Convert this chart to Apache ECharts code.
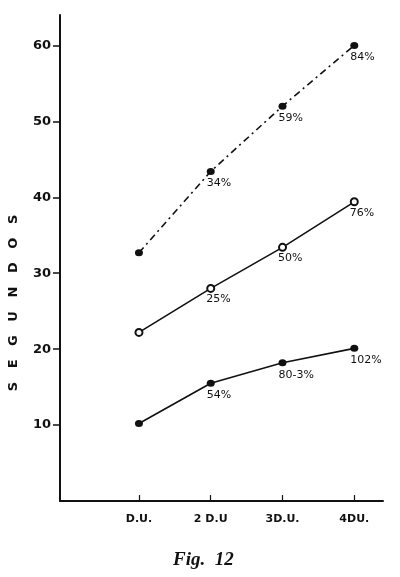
<!DOCTYPE html>
<html>
<head>
<meta charset="utf-8">
<script src="https://cdn.jsdelivr.net/npm/echarts@6/dist/echarts.min.js"></script>
<style>
  html, body { margin: 0; padding: 0; background: #fff; }
  #chart { width: 400px; height: 577px; }
</style>
</head>
<body>
<div id="chart"></div>
<script>
// categorias del eje X
var categories = ['D.U.', '2 D.U', '3D.U.', '4DU.'];
var yTicks = [10, 20, 30, 40, 50, 60];

// serie superior (punto y raya)
var topValues = [32.7, 43.4, 52.0, 60.0];
var topLabels = ['', '34%', '59%', '84%'];
// serie del medio (círculos vacíos)
var midValues = [22.2, 28.0, 33.4, 39.4];
var midLabels = ['', '25%', '50%', '76%'];
// serie inferior
var lowValues = [10.2, 15.5, 18.2, 20.1];
var lowLabels = ['', '54%', '80-3%', '102%'];

var ink = '#111';

function toPoints(values, labels) {
  return values.map(function (v, i) {
    return { value: [i + 1, v], label: { formatter: labels[i] } };
  });
}

var pointLabel = {
  show: true,
  position: [0, 10],
  align: 'left',
  verticalAlign: 'top',
  color: ink,
  fontSize: 11,
  fontFamily: 'DejaVu Sans'
};

var chart = echarts.init(document.getElementById('chart'));
chart.setOption({
  backgroundColor: '#fff',
  animation: false,
  title: {
    text: 'Fig.  12',
    left: 168,
    top: 546,
    textStyle: {
      fontFamily: 'Liberation Serif',
      fontStyle: 'italic',
      fontWeight: 'bold',
      fontSize: 19,
      color: ink
    }
  },
  grid: {
    left: 60,
    right: 17,
    top: 15,
    bottom: 76,
    outerBoundsMode: 'none'
  },
  xAxis: {
    type: 'value',
    min: -0.1,
    max: 4.4,
    axisLine: { show: true, onZero: false, lineStyle: { color: ink, width: 2 } },
    axisTick: {
      show: true,
      inside: true,
      length: 6,
      customValues: [1, 2, 3, 4],
      lineStyle: { color: ink, width: 1.2 }
    },
    axisLabel: {
      customValues: [1, 2, 3, 4],
      margin: 13,
      color: ink,
      fontSize: 11,
      fontWeight: 'bold',
      fontFamily: 'DejaVu Sans',
      formatter: function (v) {
        return categories[Math.round(v) - 1] || '';
      }
    },
    splitLine: { show: false }
  },
  yAxis: {
    type: 'value',
    min: 0,
    max: 64,
    name: 'S   E   G   U   N   D   O   S',
    nameLocation: 'middle',
    nameGap: 40,
    nameTextStyle: {
      color: ink,
      fontSize: 13,
      fontWeight: 'bold',
      fontFamily: 'DejaVu Sans',
      padding: [0, 90, 0, 0]
    },
    axisLine: { show: true, onZero: false, lineStyle: { color: ink, width: 2 } },
    axisTick: {
      show: true,
      length: 7,
      customValues: yTicks,
      lineStyle: { color: ink, width: 1.5 }
    },
    axisLabel: {
      customValues: yTicks,
      margin: 9,
      color: ink,
      fontSize: 13,
      fontWeight: 'bold',
      fontFamily: 'DejaVu Sans'
    },
    splitLine: { show: false }
  },
  series: [
    {
      name: 'superior',
      type: 'line',
      data: toPoints(topValues, topLabels),
      symbol: 'circle',
      symbolSize: [8, 7],
      itemStyle: { color: ink },
      lineStyle: { color: ink, width: 1.6, type: [7, 4, 2, 4] },
      label: pointLabel
    },
    {
      name: 'medio',
      type: 'line',
      data: toPoints(midValues, midLabels),
      symbol: 'emptyCircle',
      symbolSize: 7,
      itemStyle: { color: ink, borderColor: ink, borderWidth: 1.8 },
      lineStyle: { color: ink, width: 1.6 },
      label: pointLabel
    },
    {
      name: 'inferior',
      type: 'line',
      data: toPoints(lowValues, lowLabels),
      symbol: 'circle',
      symbolSize: [8, 7],
      itemStyle: { color: ink },
      lineStyle: { color: ink, width: 1.6 },
      label: pointLabel
    }
  ]
});
</script>
</body>
</html>
